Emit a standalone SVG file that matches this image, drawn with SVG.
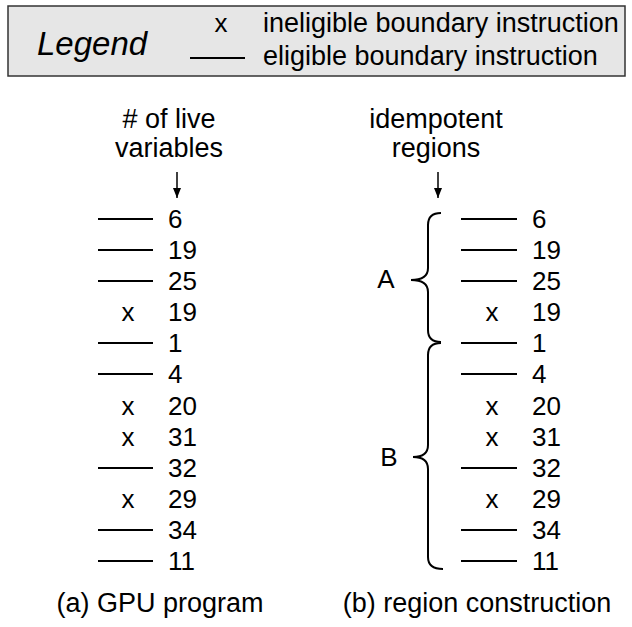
<svg xmlns="http://www.w3.org/2000/svg" width="632" height="627" viewBox="0 0 632 627">
<style>
text{font-family:"Liberation Sans",Arial,sans-serif;font-size:26px;fill:#000}
.hd{font-size:27px}
.cap{font-size:27px}
.ln{stroke:#000;stroke-width:2;fill:none}
.br{stroke:#000;stroke-width:2;fill:none}
.mid{text-anchor:middle}
</style>
<defs>
<marker id="ah" markerWidth="10" markerHeight="8" refX="10" refY="4" orient="auto" markerUnits="userSpaceOnUse" viewBox="0 0 10 8">
<path d="M0,0 L10,4 L0,8 Z" fill="#000"/>
</marker>
</defs>
<g id="legend">
<rect x="8" y="6" width="617" height="70" fill="#e6e6e6" stroke="#333" stroke-width="1.5"/>
<text x="37" y="55" style="font-style:italic;font-size:33px">Legend</text>
<text x="221" y="32" class="mid">x</text>
<line class="ln" x1="190" y1="58" x2="245" y2="58"/>
<text x="263" y="32" style="font-size:27px">ineligible boundary instruction</text>
<text x="263" y="65" style="font-size:27px">eligible boundary instruction</text>
</g>
<g id="left-col">
<text x="169" y="128" class="mid hd"># of live</text>
<text x="169" y="157" class="mid hd">variables</text>
</g>
<g id="right-col">
<text x="436" y="128" class="mid hd">idempotent</text>
<text x="436" y="157" class="mid hd">regions</text>
</g>
<g id="connectors">
<line x1="177" y1="172" x2="177" y2="198" stroke="#000" stroke-width="1.5" marker-end="url(#ah)"/>
<line x1="438" y1="172" x2="438" y2="198" stroke="#000" stroke-width="1.5" marker-end="url(#ah)"/>
</g>
<g id="left-rows">
<line class="ln" x1="98" y1="219" x2="153" y2="219"/><text x="168" y="228">6</text>
<line class="ln" x1="98" y1="250" x2="153" y2="250"/><text x="168" y="259">19</text>
<line class="ln" x1="98" y1="281" x2="153" y2="281"/><text x="168" y="290">25</text>
<text x="128" y="321" class="mid">x</text><text x="168" y="321">19</text>
<line class="ln" x1="98" y1="343" x2="153" y2="343"/><text x="168" y="352">1</text>
<line class="ln" x1="98" y1="374" x2="153" y2="374"/><text x="168" y="383">4</text>
<text x="128" y="415" class="mid">x</text><text x="168" y="415">20</text>
<text x="128" y="446" class="mid">x</text><text x="168" y="446">31</text>
<line class="ln" x1="98" y1="468" x2="153" y2="468"/><text x="168" y="477">32</text>
<text x="128" y="508" class="mid">x</text><text x="168" y="508">29</text>
<line class="ln" x1="98" y1="530" x2="153" y2="530"/><text x="168" y="539">34</text>
<line class="ln" x1="98" y1="561" x2="153" y2="561"/><text x="168" y="570">11</text>
</g>
<g id="right-rows">
<line class="ln" x1="461" y1="219" x2="517" y2="219"/><text x="532" y="228">6</text>
<line class="ln" x1="461" y1="250" x2="517" y2="250"/><text x="532" y="259">19</text>
<line class="ln" x1="461" y1="281" x2="517" y2="281"/><text x="532" y="290">25</text>
<text x="492" y="321" class="mid">x</text><text x="532" y="321">19</text>
<line class="ln" x1="461" y1="343" x2="517" y2="343"/><text x="532" y="352">1</text>
<line class="ln" x1="461" y1="374" x2="517" y2="374"/><text x="532" y="383">4</text>
<text x="492" y="415" class="mid">x</text><text x="532" y="415">20</text>
<text x="492" y="446" class="mid">x</text><text x="532" y="446">31</text>
<line class="ln" x1="461" y1="468" x2="517" y2="468"/><text x="532" y="477">32</text>
<text x="492" y="508" class="mid">x</text><text x="532" y="508">29</text>
<line class="ln" x1="461" y1="530" x2="517" y2="530"/><text x="532" y="539">34</text>
<line class="ln" x1="461" y1="561" x2="517" y2="561"/><text x="532" y="570">11</text>
</g>
<g id="brace-A">
<path class="br" d="M441,213 Q428,213 428,225 L428,268 Q428,280 411,280 Q428,280 428,292 L428,330 Q428,342 441,342"/>
<text x="386" y="288" class="mid">A</text>
</g>
<g id="brace-B">
<path class="br" d="M441,343 Q428,343 428,355 L428,445 Q428,457 413,457 Q428,457 428,469 L428,557 Q428,569 443,569"/>
<text x="389" y="466" class="mid">B</text>
</g>
<g id="captions">
<text x="160" y="612" class="mid cap">(a) GPU program</text>
<text x="477" y="612" class="mid cap">(b) region construction</text>
</g>
</svg>
